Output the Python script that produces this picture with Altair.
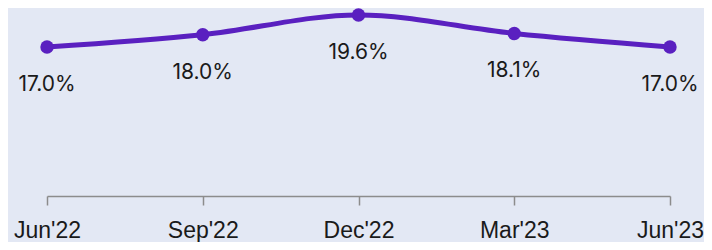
import altair as alt
import pandas as pd

quarters = ["Jun'22", "Sep'22", "Dec'22", "Mar'23", "Jun'23"]
values = [17.0, 18.0, 19.6, 18.1, 17.0]
labels = ["17.0%", "18.0%", "19.6%", "18.1%", "17.0%"]

df = pd.DataFrame({"quarter": quarters, "value": values, "label": labels})

x = alt.X("quarter:N", sort=quarters, title=None,
          scale=alt.Scale(type="point", padding=0),
          axis=alt.Axis(labelAngle=0, labelFont="Liberation Sans", labelFontSize=23,
                        labelColor="#1a1a1a", domainColor="#8c8c8c", domainWidth=1.5,
                        tickColor="#8c8c8c", tickWidth=1.5, tickSize=9, labelPadding=14,
                        labelOverlap=False, labelBound=False, grid=False))
y = alt.Y("value:Q", title=None, scale=alt.Scale(domain=[4.9, 19.6], nice=False, zero=False),
          axis=None)

base = alt.Chart(df).encode(x=x, y=y)

line = base.mark_line(color="#5a20c0", strokeWidth=5, interpolate="monotone")
pts = base.mark_circle(color="#5a20c0", size=180, opacity=1)
txt = base.mark_text(dy=38, fontSize=21, font="Inter", color="#1a1a1a", baseline="middle").encode(text="label:N")

chart = (line + pts + txt).properties(
    width=623, height=181,
    autosize=alt.AutoSizeParams(type="none"),
    padding={"left": 39, "top": 7, "right": 34, "bottom": 46},
    background="#e3e8f4",
).configure_view(stroke=None)

chart.save("out.html", embed_options={"renderer": "svg", "actions": False})
